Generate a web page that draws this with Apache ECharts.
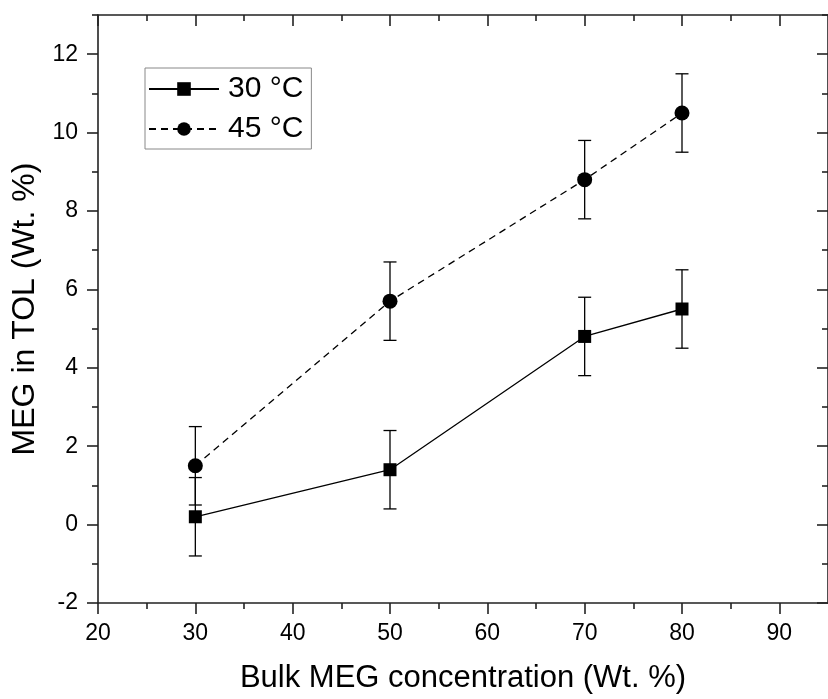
<!DOCTYPE html>
<html>
<head>
<meta charset="utf-8">
<script src="https://cdn.jsdelivr.net/npm/echarts@6/dist/echarts.min.js"></script>
<style>
html,body{margin:0;padding:0;background:#fff;}
#chart{width:828px;height:699px;}
</style>
</head>
<body>
<div id="chart"></div>
<script>
const xValues = [30, 50, 70, 80];
const y30 = [0.2, 1.4, 4.8, 5.5];
const err30 = [1.0, 1.0, 1.0, 1.0];
const y45 = [1.5, 5.7, 8.8, 10.5];
const err45 = [1.0, 1.0, 1.0, 1.0];
const seriesNames = ['30 °C', '45 °C'];
const xMajorTicks = [20, 30, 40, 50, 60, 70, 80, 90];
const xMinorTicks = [25, 35, 45, 55, 65, 75, 85];
const yMajorTicks = [-2, 0, 2, 4, 6, 8, 10, 12];
const yMinorTicks = [-1, 1, 3, 5, 7, 9, 11, 13];
const xTitle = 'Bulk MEG concentration (Wt. %)';
const yTitle = 'MEG in TOL (Wt. %)';

const FONT = '"Liberation Sans", Arial, sans-serif';
const AX = '#222';
const XMIN = 20, XMAX = 95, YMIN = -2, YMAX = 13;

function pairs(xs, ys) { return xs.map((x, i) => [x, ys[i]]); }
function errData(xs, ys, es) { return xs.map((x, i) => [x, ys[i] - es[i], ys[i] + es[i]]); }

function errRender(params, api) {
  const x = api.value(0), lo = api.value(1), hi = api.value(2);
  const a = api.coord([x, lo]), b = api.coord([x, hi]);
  const hw = 6.5;
  const st = { stroke: '#000', lineWidth: 1.3 };
  return {
    type: 'group',
    children: [
      { type: 'line', shape: { x1: a[0], y1: a[1], x2: b[0], y2: b[1] }, style: st },
      { type: 'line', shape: { x1: a[0] - hw, y1: a[1], x2: a[0] + hw, y2: a[1] }, style: st },
      { type: 'line', shape: { x1: b[0] - hw, y1: b[1], x2: b[0] + hw, y2: b[1] }, style: st }
    ]
  };
}

function xAxisDef(pos, major, inside) {
  return {
    type: 'value', position: pos, min: XMIN, max: XMAX, interval: 5,
    axisLine: { show: major, onZero: false, lineStyle: { color: AX, width: 1.6 } },
    axisTick: { show: true, inside: inside, length: major ? 11 : 6,
      customValues: major ? xMajorTicks : xMinorTicks, lineStyle: { color: AX, width: 1.6 } },
    axisLabel: { show: major && pos === 'bottom', customValues: xMajorTicks, margin: 19,
      color: '#000', fontSize: 23, fontFamily: FONT },
    splitLine: { show: false },
    name: (major && pos === 'bottom') ? xTitle : '',
    nameLocation: 'middle', nameGap: 60,
    nameTextStyle: { color: '#000', fontSize: 31, fontFamily: FONT }
  };
}
function yAxisDef(pos, major, inside) {
  return {
    type: 'value', position: pos, min: YMIN, max: YMAX, interval: 1,
    axisLine: { show: major, onZero: false, lineStyle: { color: AX, width: 1.6 } },
    axisTick: { show: true, inside: inside, length: major ? 11 : 6,
      customValues: major ? yMajorTicks : yMinorTicks, lineStyle: { color: AX, width: 1.6 } },
    axisLabel: { show: major && pos === 'left', customValues: yMajorTicks, margin: 20,
      color: '#000', fontSize: 23, fontFamily: FONT },
    splitLine: { show: false },
    name: (major && pos === 'left') ? yTitle : '',
    nameLocation: 'middle', nameGap: 57, nameRotate: 90,
    nameTextStyle: { color: '#000', fontSize: 32, fontFamily: FONT }
  };
}

const chart = echarts.init(document.getElementById('chart'), null, { renderer: 'canvas' });
chart.setOption({
  animation: false,
  backgroundColor: '#fff',
  grid: { left: 98, top: 15, width: 737, height: 593, containLabel: false },
  xAxis: [
    xAxisDef('bottom', true, false),
    xAxisDef('bottom', false, false),
    xAxisDef('top', true, true),
    xAxisDef('top', false, true)
  ],
  yAxis: [
    yAxisDef('left', true, false),
    yAxisDef('left', false, false),
    yAxisDef('right', true, true),
    yAxisDef('right', false, true)
  ],
  legend: {
    data: seriesNames,
    orient: 'vertical',
    left: 145, top: 68,
    padding: [6, 8, 5, 3],
    itemGap: 10,
    itemWidth: 70, itemHeight: 17,
    borderColor: '#888', borderWidth: 1,
    textStyle: { color: '#000', fontSize: 30, fontFamily: FONT, lineHeight: 29, padding: [0, 0, 0, 4] }
  },
  series: [
    {
      name: seriesNames[0], type: 'line', data: pairs(xValues, y30),
      symbol: 'rect', symbolSize: 13,
      itemStyle: { color: '#000' },
      lineStyle: { color: '#000', width: 1.3, type: 'solid' },
      z: 3
    },
    {
      name: seriesNames[1], type: 'line', data: pairs(xValues, y45),
      symbol: 'circle', symbolSize: 15,
      itemStyle: { color: '#000' },
      lineStyle: { color: '#000', width: 1.3, type: [7, 5] },
      z: 3
    },
    { name: 'err30', type: 'custom', renderItem: errRender, data: errData(xValues, y30, err30), z: 2 },
    { name: 'err45', type: 'custom', renderItem: errRender, data: errData(xValues, y45, err45), z: 2 }
  ]
});
</script>
</body>
</html>
